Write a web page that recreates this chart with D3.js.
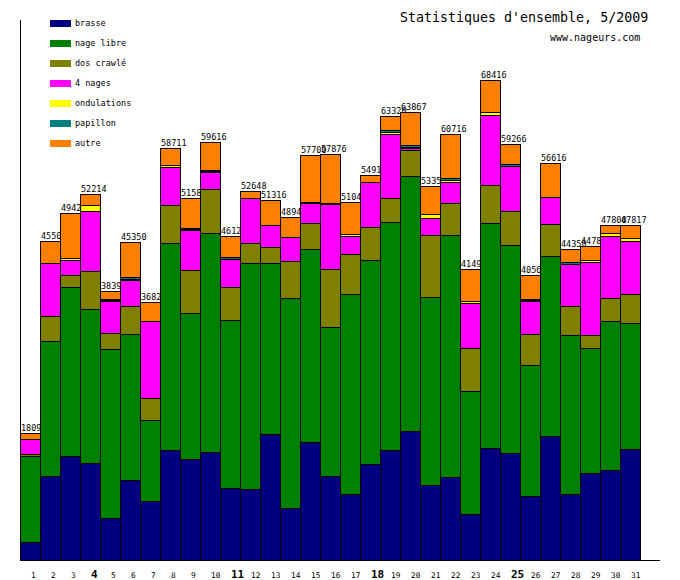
<!DOCTYPE html>
<html>
<head>
<meta charset="utf-8">
<script src="https://cdn.jsdelivr.net/npm/d3@7"></script>
<style>
  body { margin: 0; background: #fff; }
  svg { display: block; }
  text { font-family: "DejaVu Sans Mono", monospace; }
</style>
</head>
<body>
<svg id="chart" width="680" height="580"></svg>
<script>
// jours du mois
const days = d3.range(1, 32)
const boldDays = [4, 11, 18, 25]

// séries empilées, du bas vers le haut
const brasse = [2520, 11930, 14870, 13870, 5920, 11460, 8380, 15740, 14460, 15450, 10200, 10050, 17980, 7470, 16850, 12020, 9340, 13750, 15740, 18440, 10620, 11760, 6500, 15900, 15320, 9060, 17740, 9340, 12470, 12760, 15750]
const nageLibre = [12300, 19270, 24000, 21870, 24140, 20730, 11640, 29430, 20760, 31130, 24030, 32280, 24410, 29940, 27530, 21150, 28580, 29010, 32420, 36260, 26880, 34550, 17630, 32160, 29590, 18780, 25610, 22760, 17780, 21280, 18070]
const dosCrawle = [285, 3550, 1700, 5400, 2360, 3980, 3080, 5450, 6110, 6250, 4740, 2840, 2270, 5250, 3690, 8370, 5690, 4690, 3410, 3700, 8820, 4550, 6110, 5410, 4840, 4410, 4550, 4120, 1890, 3330, 4130]
const quatreNages = [2080, 7530, 2130, 8660, 4540, 3780, 10930, 5360, 5770, 2500, 3980, 6400, 3120, 3400, 2780, 9170, 2560, 6400, 9190, 280, 2420, 2990, 6400, 9900, 6400, 4640, 3840, 5920, 10340, 8860, 7480]
const ondulations = [0, 0, 280, 750, 100, 150, 0, 280, 100, 120, 0, 0, 0, 0, 100, 120, 280, 0, 240, 240, 570, 330, 280, 480, 0, 170, 0, 0, 330, 380, 480]
const papillon = [0, 0, 0, 0, 100, 200, 0, 0, 100, 120, 280, 0, 0, 0, 100, 120, 0, 0, 240, 240, 0, 240, 0, 0, 280, 170, 0, 340, 0, 0, 0]
const autre = [910, 3225, 6440, 1664, 1230, 5050, 2790, 2451, 4280, 4046, 2890, 1078, 3536, 2880, 6650, 6926, 4590, 1060, 2080, 4707, 4040, 6296, 4570, 4566, 2836, 3330, 4876, 1870, 1970, 1190, 1907]

const seriesNames = ['brasse', 'nage libre', 'dos crawlé', '4 nages', 'ondulations', 'papillon', 'autre']
const seriesValues = [brasse, nageLibre, dosCrawle, quatreNages, ondulations, papillon, autre]
const seriesColors = ['#000080', '#008000', '#808000', '#ff00ff', '#ffff00', '#008080', '#ff8000']

function draw() {
  const svg = d3.select('#chart')

  // table pour d3.stack
  const rows = days.map((d, i) => {
    const row = { day: d }
    seriesNames.forEach((k, j) => { row[k] = seriesValues[j][i] })
    return row
  })
  const stacked = d3.stack().keys(seriesNames)(rows)
  const totals = rows.map((r, i) => d3.sum(seriesValues, s => s[i]))

  const x = d3.scaleBand()
    .domain(days)
    .range([20, 640])
    .padding(0)

  const y = d3.scaleLinear()
    .domain([0, d3.max(totals) * 1.125])
    .range([560, 20])

  const color = d3.scaleOrdinal()
    .domain(seriesNames)
    .range(seriesColors)

  // titre
  svg.append('text')
    .attr('x', 400)
    .attr('y', 22)
    .style('font-size', '13.3px')
    .text("Statistiques d'ensemble, 5/2009")

  svg.append('text')
    .attr('x', 550)
    .attr('y', 41)
    .style('font-size', '10px')
    .text('www.nageurs.com')

  // légende
  const legend = svg.append('g')
    .selectAll('g')
    .data(seriesNames)
    .join('g')
    .attr('transform', (d, i) => `translate(50, ${20 + i * 20})`)

  legend.append('rect')
    .attr('width', 21)
    .attr('height', 7)
    .attr('fill', d => color(d))

  legend.append('text')
    .attr('x', 25)
    .attr('y', 6)
    .style('font-size', '8.5px')
    .text(d => d)

  // barres : chaque jour, les segments puis l'étiquette (le jour suivant recouvre la fin)
  const bars = svg.append('g')
    .selectAll('g')
    .data(rows)
    .join('g')

  bars.selectAll('rect')
    .data((d, i) => stacked
      .map(s => ({ key: s.key, y0: s[i][0], y1: s[i][1], day: d.day }))
      .filter(s => s.y1 > s.y0))
    .join('rect')
    .attr('x', d => x(d.day))
    .attr('y', d => Math.round(y(d.y1)))
    .attr('width', x.bandwidth())
    .attr('height', d => Math.round(y(d.y0)) - Math.round(y(d.y1)))
    .attr('fill', d => color(d.key))
    .attr('stroke', 'black')
    .attr('stroke-width', 1)
    .attr('shape-rendering', 'crispEdges')

  bars.append('text')
    .attr('x', d => x(d.day) + 1)
    .attr('y', (d, i) => Math.round(y(totals[i])) - 2)
    .style('font-size', '8.5px')
    .text((d, i) => totals[i])

  // axes
  svg.append('line')
    .attr('x1', 20.5).attr('x2', 20.5)
    .attr('y1', 20).attr('y2', 560)
    .attr('stroke', 'black')

  svg.append('line')
    .attr('x1', 20).attr('x2', 660)
    .attr('y1', 560.5).attr('y2', 560.5)
    .attr('stroke', 'black')

  svg.append('g')
    .selectAll('text')
    .data(days)
    .join('text')
    .attr('x', d => x(d) + x.bandwidth() / 2 + 1)
    .attr('y', 578)
    .style('font-size', d => boldDays.includes(d) ? '11px' : '7.8px')
    .style('font-weight', d => boldDays.includes(d) ? 'bold' : 'normal')
    .text(d => d)
}

document.addEventListener('DOMContentLoaded', draw, false)
</script>
</body>
</html>
